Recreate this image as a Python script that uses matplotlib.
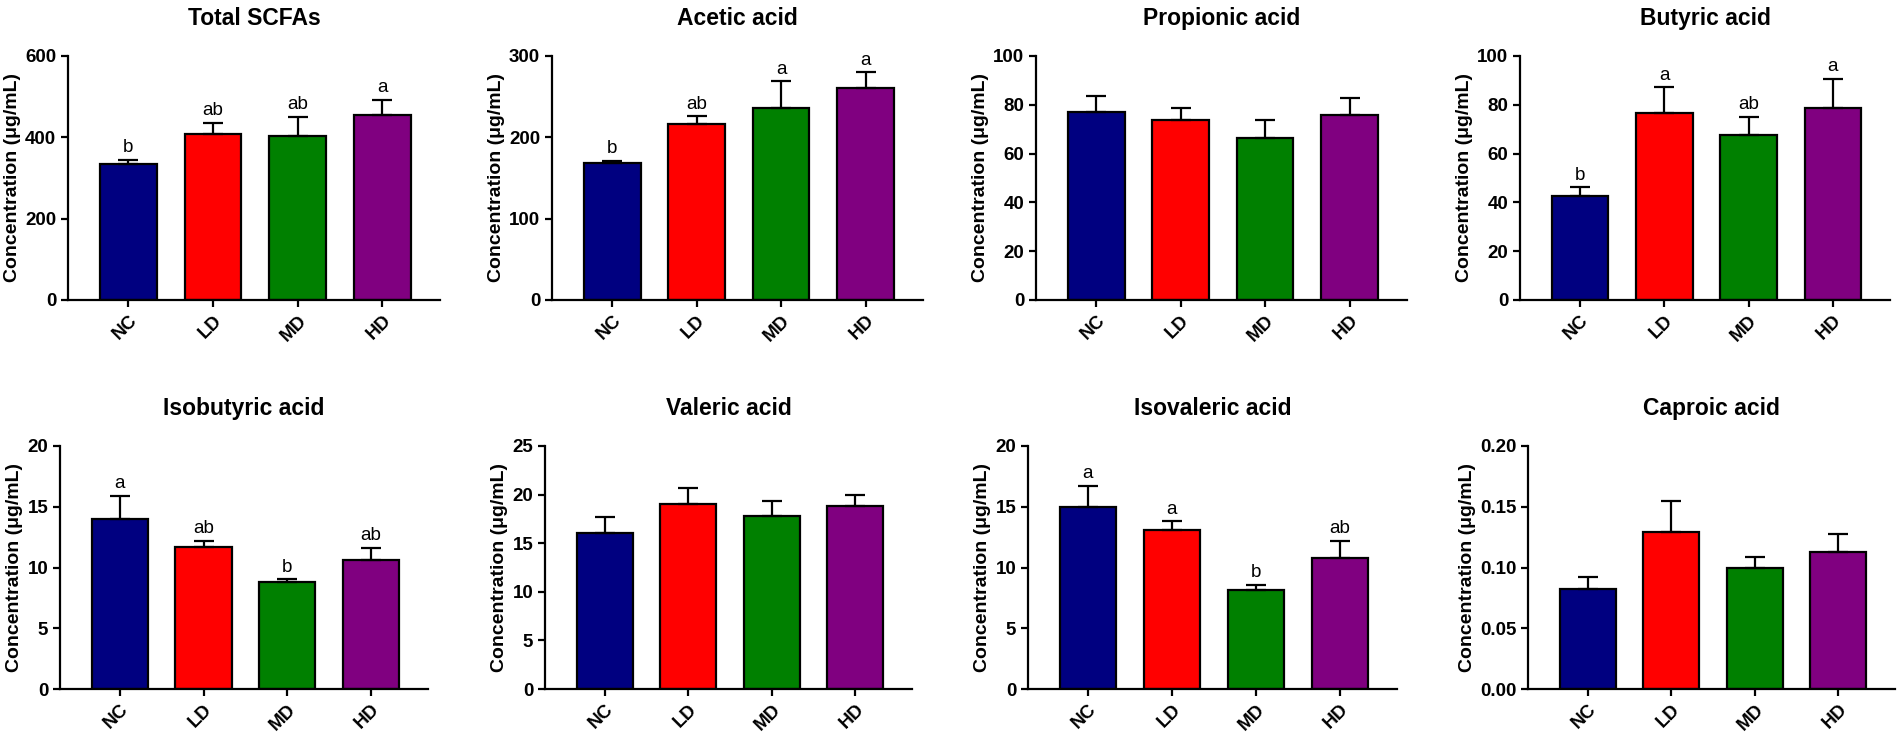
import matplotlib
matplotlib.use("Agg")
import matplotlib.pyplot as plt

plt.rcParams['font.family'] = ['Liberation Sans', 'DejaVu Sans']

groups = ['NC', 'LD', 'MD', 'HD']
colors = ['#000080', '#ff0000', '#008000', '#800080']

titles = ['Total SCFAs', 'Acetic acid', 'Propionic acid', 'Butyric acid',
          'Isobutyric acid', 'Valeric acid', 'Isovaleric acid', 'Caproic acid']

# means and upper SEM (top of error bar minus mean)
total_mean = [334, 409, 404, 455]
total_err = [11, 26, 47, 37]
acetic_mean = [169, 216, 236, 261]
acetic_err = [2, 10, 33, 19]
propionic_mean = [77.0, 73.6, 66.5, 76.0]
propionic_err = [6.6, 5.2, 7.4, 6.7]
butyric_mean = [42.6, 76.5, 67.8, 78.6]
butyric_err = [3.6, 10.7, 7.3, 12.0]
isobutyric_mean = [14.0, 11.7, 8.78, 10.64]
isobutyric_err = [1.9, 0.5, 0.25, 0.96]
valeric_mean = [16.1, 19.05, 17.8, 18.8]
valeric_err = [1.6, 1.65, 1.5, 1.2]
isovaleric_mean = [14.97, 13.05, 8.15, 10.75]
isovaleric_err = [1.73, 0.75, 0.41, 1.45]
caproic_mean = [0.0826, 0.129, 0.100, 0.113]
caproic_err = [0.0093, 0.026, 0.009, 0.0145]

total_letters = ['b', 'ab', 'ab', 'a']
acetic_letters = ['b', 'ab', 'a', 'a']
butyric_letters = ['b', 'a', 'ab', 'a']
isobutyric_letters = ['a', 'ab', 'b', 'ab']
isovaleric_letters = ['a', 'a', 'b', 'ab']

means = [total_mean, acetic_mean, propionic_mean, butyric_mean,
         isobutyric_mean, valeric_mean, isovaleric_mean, caproic_mean]
errs = [total_err, acetic_err, propionic_err, butyric_err,
        isobutyric_err, valeric_err, isovaleric_err, caproic_err]
letters = [total_letters, acetic_letters, None, butyric_letters,
           isobutyric_letters, None, isovaleric_letters, None]
ymax = [600, 300, 100, 100, 20, 25, 20, 0.20]
ystep = [200, 100, 20, 20, 5, 5, 5, 0.05]

W, H = 1902, 738
fig = plt.figure(figsize=(W / 100, H / 100), dpi=100)

# axes boxes in pixels: left, right, top, bottom
boxes = [(68, 440, 56, 300), (552, 923, 56, 300), (1036, 1407, 56, 300), (1520, 1890, 56, 300),
         (60, 428, 446, 689), (545, 912, 446, 689), (1028, 1397, 446, 689), (1528, 1895, 446, 689)]

for i in range(8):
    l, r, t, b = boxes[i]
    ax = fig.add_axes([l / W, 1 - b / H, (r - l) / W, (b - t) / H])
    x = range(len(groups))
    ax.bar(x, means[i], width=0.67, color=colors, edgecolor='black', linewidth=1.6, zorder=2)
    ax.errorbar(x, means[i], yerr=[[0] * 4, errs[i]], fmt='none', ecolor='black',
                elinewidth=1.6, capsize=7, capthick=1.6, zorder=3)
    if letters[i]:
        for j in range(4):
            ax.annotate(letters[i][j], (j, means[i][j] + errs[i][j]), xytext=(0, 5.5),
                        textcoords='offset points', ha='center', va='baseline', fontsize=13.5)
    ax.set_xlim(-0.714, 3.68)
    ax.set_ylim(0, ymax[i])
    n = int(round(ymax[i] / ystep[i]))
    ticks = [ystep[i] * k for k in range(n + 1)]
    ax.set_yticks(ticks)
    if ymax[i] < 1:
        ax.set_yticklabels([f'{v:.2f}' for v in ticks], fontweight='bold')
    else:
        ax.set_yticklabels([f'{v:g}' for v in ticks], fontweight='bold')
    ax.set_xticks(list(x))
    ax.set_xticklabels(groups, rotation=45, ha='right', rotation_mode='anchor', fontweight='bold')
    for s in ['top', 'right']:
        ax.spines[s].set_visible(False)
    for s in ['left', 'bottom']:
        ax.spines[s].set_linewidth(1.6)
    ax.tick_params(width=1.6, length=5, labelsize=13.5)
    ax.set_ylabel('Concentration (μg/mL)', fontsize=14, fontweight='bold', labelpad=3)
    ax.set_title(titles[i], fontsize=16.5, fontweight='bold', pad=22)

fig.savefig('out.png', dpi=100)
